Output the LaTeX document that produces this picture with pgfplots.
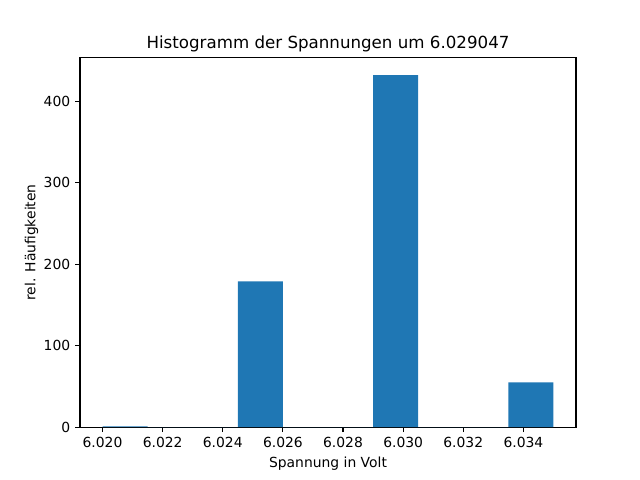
\documentclass[border=0pt]{standalone}
\usepackage{fontspec}
\setmainfont{DejaVu Sans}
\usepackage{pgfplots}
\pgfplotsset{compat=1.18}
\definecolor{mplblue}{HTML}{1F77B4}
\begin{document}
\fontsize{10bp}{12bp}\selectfont
\begin{tikzpicture}
\begin{axis}[
  at={(0,0)}, anchor=south west,
  scale only axis,
  width=357.12bp, height=266.11bp,
  xmin=6.01925, xmax=6.03575,
  ymin=0, ymax=453.6,
  axis line style={line width=0.8bp},
  tick style={line width=0.8bp, black},
  major tick length=3.5bp,
  tick align=outside,
  xtick pos=bottom, ytick pos=left,
  xtick={6.020,6.022,6.024,6.026,6.028,6.030,6.032,6.034},
  ytick={0,100,200,300,400},
  scaled x ticks=false,
  x tick label style={/pgf/number format/fixed, /pgf/number format/fixed zerofill, /pgf/number format/precision=3},
  /pgf/number format/assume math mode=true,
  tick label style={font=\fontsize{10bp}{12bp}\selectfont},
  label style={font=\fontsize{10bp}{12bp}\selectfont},
  title style={font=\fontsize{12bp}{14bp}\selectfont, yshift=-5.5bp},
  title={Histogramm der Spannungen um 6.029047},
  xlabel={Spannung in Volt},
  ylabel={rel. Häufigkeiten},
  ylabel style={yshift=-3bp},
]
\addplot[ybar interval, fill=mplblue, draw=none] coordinates {
  (6.0200,1) (6.0215,0) (6.0230,0) (6.0245,179) (6.0260,0)
  (6.0275,0) (6.0290,432) (6.0305,0) (6.0320,0) (6.0335,55) (6.0350,55)
};
\end{axis}
\pgfresetboundingbox
\path (-57.6bp,-38.016bp) rectangle (403.2bp,307.584bp);
\end{tikzpicture}
\end{document}
